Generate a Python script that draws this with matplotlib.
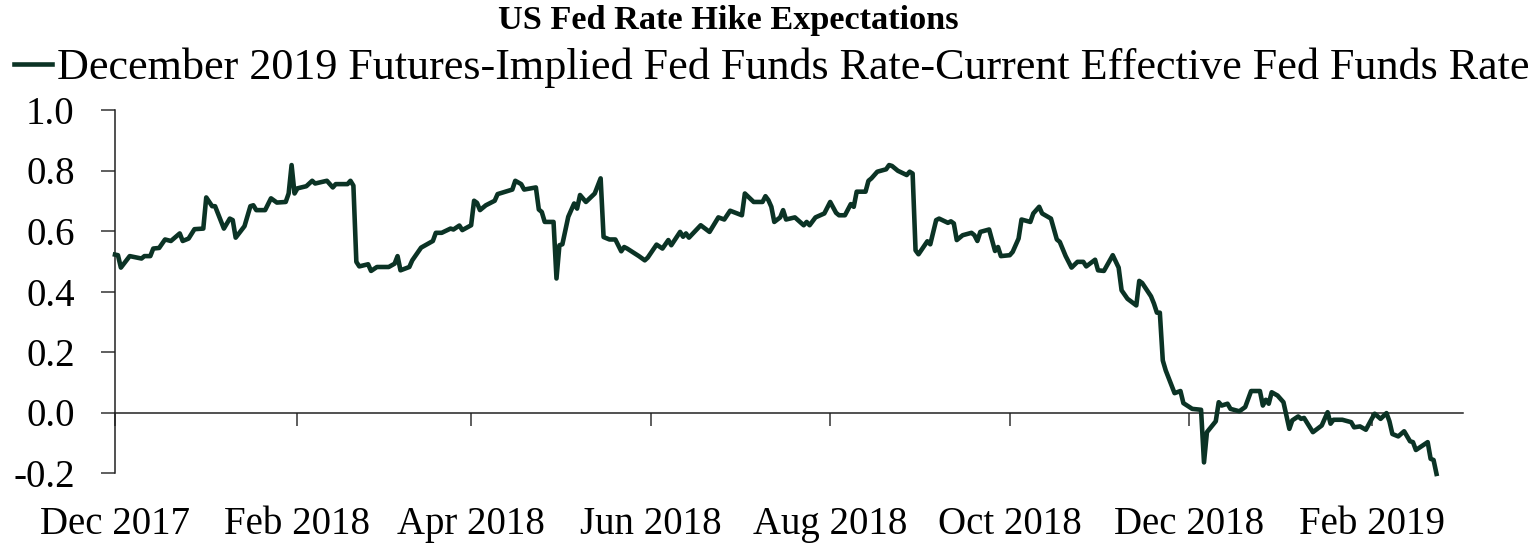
import matplotlib
matplotlib.use('Agg')
import matplotlib.pyplot as plt
import pandas as pd

title = 'US Fed Rate Hike Expectations'
series_name = 'December 2019 Futures-Implied Fed Funds Rate-Current Effective Fed Funds Rate'

dates = [
    '2017-12-01', '2017-12-02', '2017-12-03', '2017-12-06', '2017-12-10', '2017-12-11', '2017-12-13',
    '2017-12-14', '2017-12-16', '2017-12-18', '2017-12-20', '2017-12-23', '2017-12-24', '2017-12-26',
    '2017-12-28', '2017-12-31', '2018-01-01', '2018-01-03', '2018-01-04', '2018-01-07', '2018-01-09',
    '2018-01-10', '2018-01-11', '2018-01-14', '2018-01-16', '2018-01-17', '2018-01-18', '2018-01-21',
    '2018-01-23', '2018-01-25', '2018-01-28', '2018-01-29', '2018-01-30', '2018-01-31', '2018-02-01',
    '2018-02-04', '2018-02-06', '2018-02-07', '2018-02-11', '2018-02-13', '2018-02-14', '2018-02-18',
    '2018-02-19', '2018-02-20', '2018-02-21', '2018-02-22', '2018-02-25', '2018-02-26', '2018-02-28',
    '2018-03-04', '2018-03-06', '2018-03-07', '2018-03-08', '2018-03-11', '2018-03-12', '2018-03-15',
    '2018-03-17', '2018-03-19', '2018-03-20', '2018-03-22', '2018-03-25', '2018-03-26', '2018-03-28',
    '2018-03-29', '2018-04-01', '2018-04-02', '2018-04-03', '2018-04-04', '2018-04-06', '2018-04-09',
    '2018-04-10', '2018-04-15', '2018-04-16', '2018-04-18', '2018-04-19', '2018-04-23', '2018-04-24',
    '2018-04-25', '2018-04-26', '2018-04-29', '2018-04-30', '2018-05-01', '2018-05-02', '2018-05-04',
    '2018-05-06', '2018-05-07', '2018-05-08', '2018-05-10', '2018-05-13', '2018-05-15', '2018-05-16',
    '2018-05-18', '2018-05-20', '2018-05-22', '2018-05-23', '2018-05-24', '2018-05-28', '2018-05-30',
    '2018-05-31', '2018-06-03', '2018-06-05', '2018-06-07', '2018-06-08', '2018-06-11', '2018-06-12',
    '2018-06-13', '2018-06-14', '2018-06-18', '2018-06-21', '2018-06-24', '2018-06-26', '2018-06-28',
    '2018-07-02', '2018-07-03', '2018-07-06', '2018-07-09', '2018-07-10', '2018-07-11', '2018-07-12',
    '2018-07-13', '2018-07-15', '2018-07-16', '2018-07-17', '2018-07-20', '2018-07-23', '2018-07-24',
    '2018-07-25', '2018-07-27', '2018-07-30', '2018-08-01', '2018-08-03', '2018-08-04', '2018-08-06',
    '2018-08-08', '2018-08-09', '2018-08-10', '2018-08-13', '2018-08-14', '2018-08-15', '2018-08-17',
    '2018-08-20', '2018-08-21', '2018-08-22', '2018-08-24', '2018-08-27', '2018-08-28', '2018-08-29',
    '2018-08-30', '2018-08-31', '2018-09-03', '2018-09-04', '2018-09-06', '2018-09-07', '2018-09-10',
    '2018-09-11', '2018-09-12', '2018-09-13', '2018-09-15', '2018-09-18', '2018-09-19', '2018-09-20',
    '2018-09-21', '2018-09-24', '2018-09-26', '2018-09-27', '2018-09-28', '2018-10-01', '2018-10-02',
    '2018-10-04', '2018-10-05', '2018-10-08', '2018-10-09', '2018-10-11', '2018-10-12', '2018-10-15',
    '2018-10-17', '2018-10-18', '2018-10-20', '2018-10-22', '2018-10-24', '2018-10-26', '2018-10-27',
    '2018-10-30', '2018-10-31', '2018-11-02', '2018-11-05', '2018-11-07', '2018-11-08', '2018-11-10',
    '2018-11-13', '2018-11-14', '2018-11-15', '2018-11-18', '2018-11-19', '2018-11-20', '2018-11-21',
    '2018-11-22', '2018-11-23', '2018-11-26', '2018-11-28', '2018-11-29', '2018-12-02', '2018-12-05',
    '2018-12-06', '2018-12-07', '2018-12-10', '2018-12-11', '2018-12-12', '2018-12-14', '2018-12-15',
    '2018-12-18', '2018-12-20', '2018-12-22', '2018-12-25', '2018-12-26', '2018-12-27', '2018-12-28',
    '2018-12-29', '2018-12-31', '2019-01-02', '2019-01-04', '2019-01-05', '2019-01-07', '2019-01-08',
    '2019-01-09', '2019-01-12', '2019-01-15', '2019-01-17', '2019-01-18', '2019-01-19', '2019-01-22',
    '2019-01-25', '2019-01-26', '2019-01-28', '2019-01-30', '2019-02-01', '2019-02-02', '2019-02-04',
    '2019-02-06', '2019-02-07', '2019-02-08', '2019-02-10', '2019-02-12', '2019-02-14', '2019-02-15',
    '2019-02-16', '2019-02-20', '2019-02-21', '2019-02-22', '2019-02-23',
]

values = [
    0.522, 0.520, 0.479, 0.517, 0.509, 0.517, 0.517,
    0.542, 0.544, 0.572, 0.567, 0.592, 0.567, 0.575,
    0.606, 0.608, 0.711, 0.682, 0.682, 0.608, 0.641,
    0.636, 0.578, 0.616, 0.682, 0.685, 0.669, 0.669,
    0.708, 0.694, 0.696, 0.724, 0.818, 0.724, 0.741,
    0.748, 0.766, 0.757, 0.766, 0.744, 0.755, 0.755,
    0.766, 0.750, 0.498, 0.483, 0.490, 0.468, 0.481,
    0.481, 0.492, 0.517, 0.470, 0.481, 0.503, 0.545,
    0.556, 0.567, 0.594, 0.594, 0.608, 0.605, 0.618,
    0.603, 0.619, 0.700, 0.693, 0.669, 0.685, 0.700,
    0.722, 0.737, 0.766, 0.755, 0.737, 0.744, 0.671,
    0.663, 0.630, 0.630, 0.443, 0.553, 0.556, 0.647,
    0.691, 0.674, 0.719, 0.696, 0.724, 0.774, 0.580,
    0.572, 0.572, 0.533, 0.547, 0.542, 0.517, 0.503,
    0.512, 0.555, 0.542, 0.570, 0.553, 0.597, 0.581,
    0.592, 0.578, 0.619, 0.597, 0.645, 0.638, 0.667,
    0.652, 0.724, 0.696, 0.696, 0.715, 0.702, 0.680,
    0.630, 0.645, 0.669, 0.638, 0.645, 0.619, 0.630,
    0.619, 0.645, 0.658, 0.696, 0.660, 0.652, 0.652,
    0.689, 0.680, 0.730, 0.730, 0.766, 0.774, 0.796,
    0.804, 0.818, 0.815, 0.799, 0.785, 0.796, 0.790,
    0.536, 0.523, 0.566, 0.556, 0.636, 0.641, 0.627,
    0.632, 0.625, 0.570, 0.586, 0.594, 0.586, 0.567,
    0.597, 0.605, 0.534, 0.547, 0.517, 0.520, 0.531,
    0.575, 0.638, 0.630, 0.658, 0.680, 0.658, 0.641,
    0.572, 0.564, 0.517, 0.479, 0.498, 0.498, 0.483,
    0.505, 0.470, 0.468, 0.520, 0.479, 0.404, 0.376,
    0.354, 0.435, 0.428, 0.384, 0.360, 0.330, 0.330,
    0.172, 0.139, 0.064, 0.071, 0.031, 0.012, 0.009,
    -0.165, -0.065, -0.029, 0.034, 0.023, 0.029, 0.012,
    0.004, 0.018, 0.071, 0.071, 0.023, 0.042, 0.029,
    0.067, 0.056, 0.034, -0.054, -0.026, -0.013, -0.021,
    -0.018, -0.065, -0.043, 0.001, -0.037, -0.024, -0.024,
    -0.032, -0.049, -0.046, -0.057, -0.021, -0.004, -0.021,
    -0.002, -0.029, -0.071, -0.079, -0.062, -0.095, -0.098,
    -0.124, -0.098, -0.153, -0.157, -0.203,
]

tick_dates = ['2017-12-01', '2018-02-01', '2018-04-01', '2018-06-01',
              '2018-08-01', '2018-10-01', '2018-12-01', '2019-02-01']
tick_labels = ['Dec 2017', 'Feb 2018', 'Apr 2018', 'Jun 2018',
               'Aug 2018', 'Oct 2018', 'Dec 2018', 'Feb 2019']
y_ticks = [-0.2, 0.0, 0.2, 0.4, 0.6, 0.8, 1.0]
x_range = ['2017-12-01', '2019-03-04']

plt.rcParams['font.family'] = ['Liberation Serif', 'DejaVu Serif']

W, H = 1535, 550
fig = plt.figure(figsize=(W / 100, H / 100), dpi=100)
ax = fig.add_axes([115 / W, 1 - 473 / H, (1463 - 115) / W, (473 - 110) / H])

line_color = '#0B3325'
line, = ax.plot(pd.to_datetime(dates), values, color=line_color, lw=3.3,
                solid_joinstyle='round', label=series_name, clip_on=False, zorder=3)

ax.set_xlim(pd.to_datetime(x_range[0]), pd.to_datetime(x_range[1]))
ax.set_ylim(y_ticks[0], y_ticks[-1])

for s in ['top', 'right']:
    ax.spines[s].set_visible(False)
ax.spines['bottom'].set_position(('data', 0))
for s in ['left', 'bottom']:
    ax.spines[s].set_color('#222222')
    ax.spines[s].set_linewidth(1.1)

ax.set_xticks(pd.to_datetime(tick_dates))
ax.set_xticklabels(tick_labels)
ax.set_yticks(y_ticks)
ax.set_yticklabels([f'{v:.1f}' for v in y_ticks])
ax.tick_params(axis='x', direction='out', length=9.5, width=1.1, color='#333333',
               pad=58, labelsize=28)
ax.tick_params(axis='y', direction='out', length=10, width=1.1, color='#333333',
               pad=19, labelsize=28)

fig.text(728 / W, 1 - 20 / H, title, ha='center', va='center',
         fontsize=24.7, fontweight='bold')

fig.legend([line], [series_name], loc='center left',
           bbox_to_anchor=(14 / W, 1 - 68 / H), frameon=False,
           handlelength=0.85, handletextpad=0.12, borderpad=0, borderaxespad=0,
           fontsize=31.8)

fig.savefig('out.png', dpi=100)
